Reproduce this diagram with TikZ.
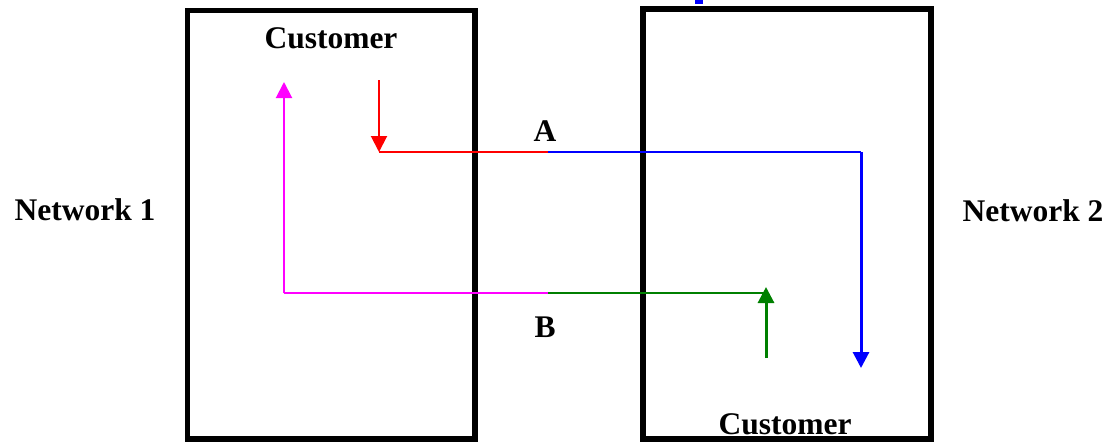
\documentclass[tikz,border=0pt]{standalone}
\usepackage{fontspec}
\setmainfont{Liberation Serif}
\usetikzlibrary{arrows.meta}
\begin{document}
\begin{tikzpicture}[x=1pt,y=-1pt,
  lbl/.style={font=\bfseries\fontsize{31.5}{36}\selectfont, inner sep=0pt, anchor=base},
  netbox/.style={draw=black, line width=5.5pt},
  tipped/.style={-{Triangle[width=16pt,length=16pt]}},
  thinline/.style={line width=2pt},
  thickline/.style={line width=3pt},
  mag/.style={color={rgb,255:red,255;green,0;blue,255}},
  grn/.style={color={rgb,255:red,0;green,128;blue,0}}]
\useasboundingbox (0,0) rectangle (1107,442);
% boxes
\draw[netbox] (187.5,10.5) rectangle (475,439);
\draw[netbox] (643,9) rectangle (931,439);
% small blue mark at top
\fill[blue] (695,0) rectangle (703,4);
% labels
\node[lbl] (cust1) at (331,48) {Customer};
\node[lbl] (cust2) at (785,434) {Customer};
\node[lbl] (net1) at (85,220) {Network 1};
\node[lbl] (net2) at (1033,221) {Network 2};
\node[lbl] (lA) at (545,141) {A};
\node[lbl] (lB) at (545,337) {B};
% coordinates of path A
\coordinate (a0) at (379,80);
\coordinate (a1) at (379,152);
\coordinate (a2) at (548,152);
\coordinate (a3) at (861,152);
\coordinate (a4) at (861,368);
% coordinates of path B
\coordinate (b0) at (766,358);
\coordinate (b1) at (766,287);
\coordinate (b1h) at (766,293);
\coordinate (b2) at (548,293);
\coordinate (b3) at (284,293);
\coordinate (b4) at (284,82);
% path A
\draw[red, thinline, tipped] (a0) -- (a1);
\draw[red, thinline] (a1) -- (a2);
\draw[blue, thinline] (a2) -- (a3);
\draw[blue, thickline, tipped] (a3) -- (a4);
% path B
\draw[grn, thickline, tipped] (b0) -- (b1);
\draw[grn, thinline] (b1h) -- (b2);
\draw[mag, thinline] (b2) -- (b3);
\draw[mag, thinline, tipped] (b3) -- (b4);
\end{tikzpicture}
\end{document}
